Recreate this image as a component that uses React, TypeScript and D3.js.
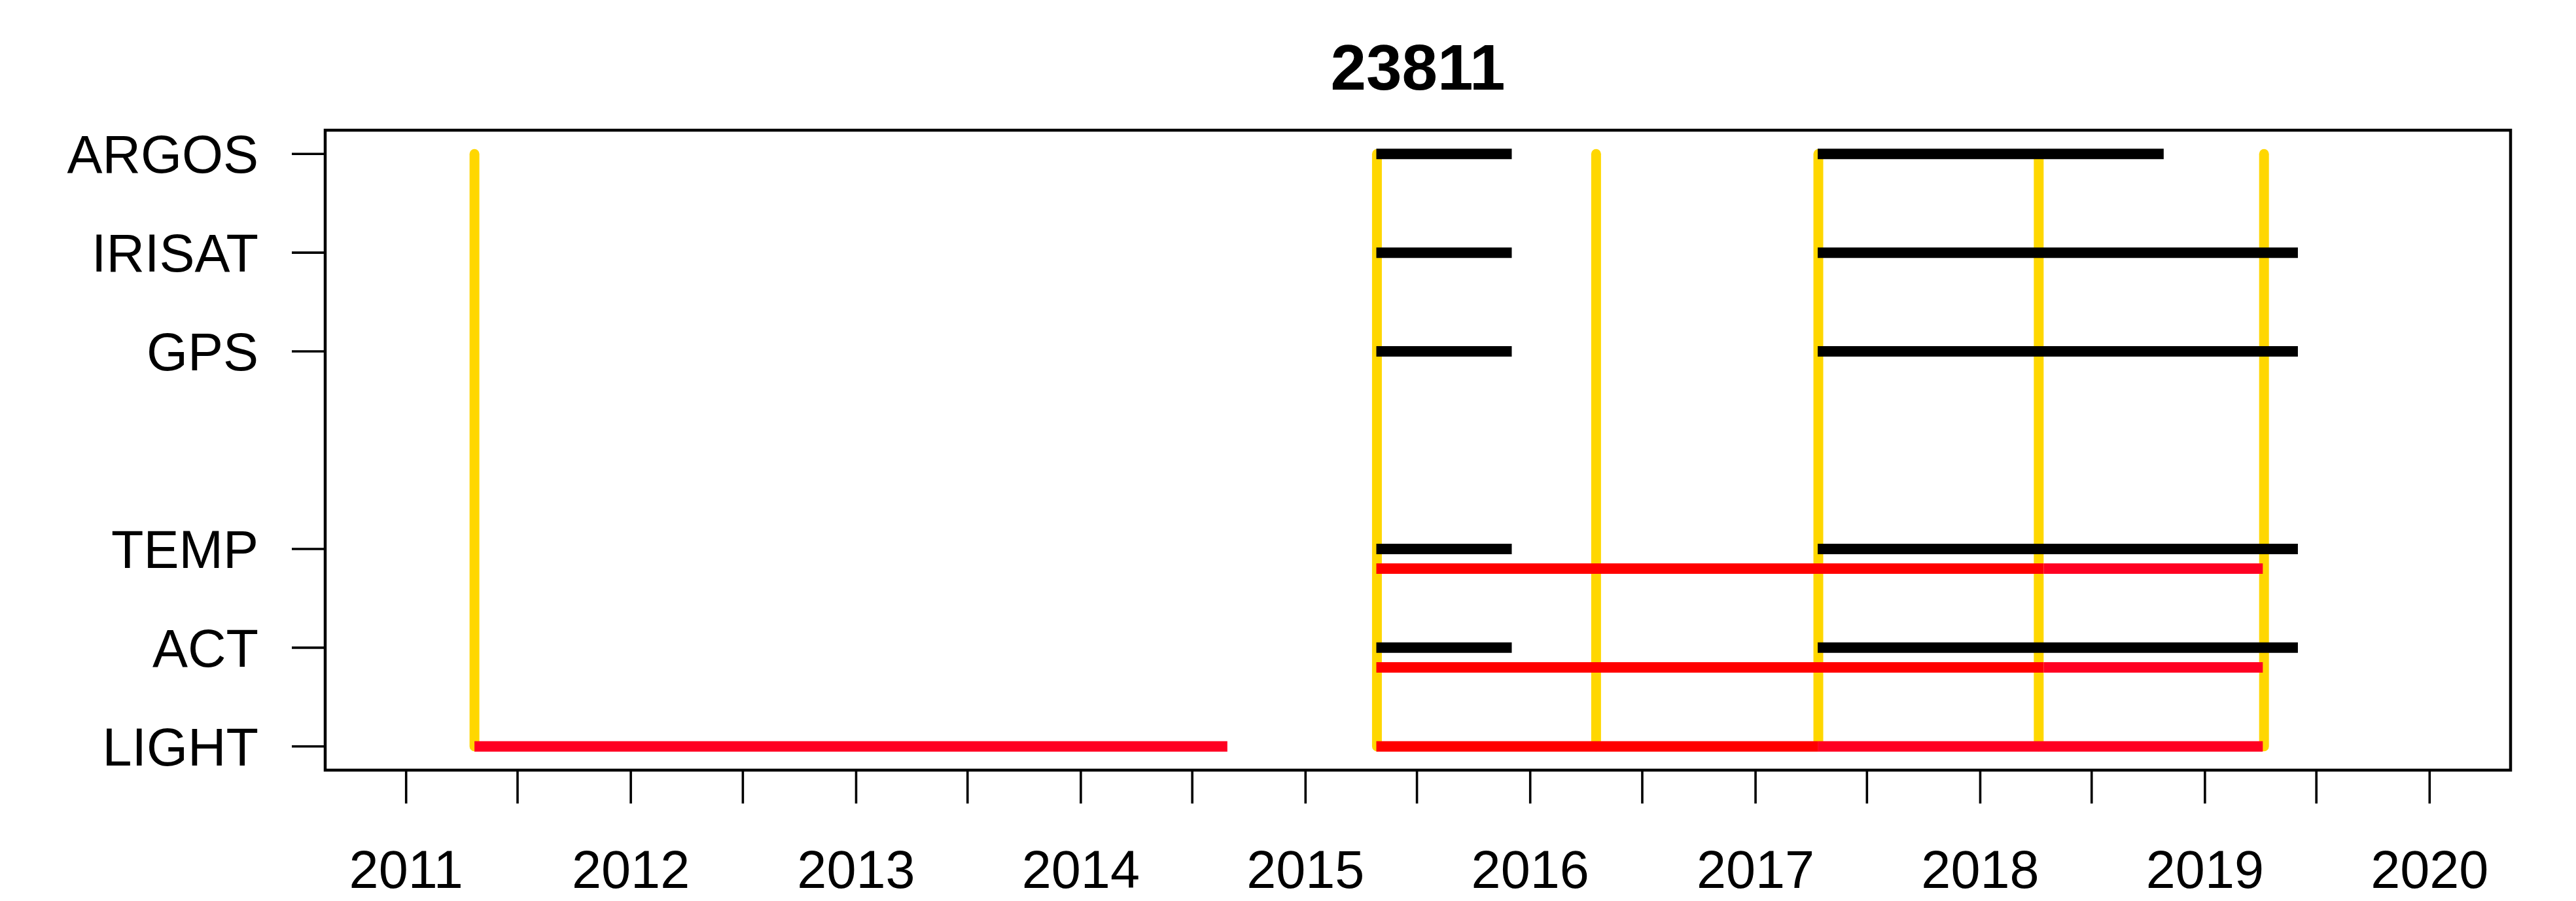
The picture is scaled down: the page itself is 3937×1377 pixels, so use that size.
import React from "react";
import * as d3 from "d3";

const W = 3937;
const H = 1377;
const TITLE = "23811";

// y categories and their positions
const rowNames = ["ARGOS", "IRISAT", "GPS", "TEMP", "ACT", "LIGHT"];
const rowPos = [7, 6, 5, 3, 2, 1];

// deployment dates (gold vertical lines)
const deployDates = ["2011-04-22", "2015-04-27", "2016-04-17", "2017-04-13", "2018-04-06", "2019-04-07"];

// black transmission/sensor segments: row, start, end
const blackRows = ["ARGOS", "IRISAT", "GPS", "TEMP", "ACT", "ARGOS", "IRISAT", "GPS", "TEMP", "ACT"];
const blackStarts = ["2015-04-26", "2015-04-26", "2015-04-26", "2015-04-26", "2015-04-26", "2017-04-12", "2017-04-12", "2017-04-12", "2017-04-12", "2017-04-12"];
const blackEnds = ["2015-12-02", "2015-12-02", "2015-12-02", "2015-12-02", "2015-12-02", "2018-10-26", "2019-06-01", "2019-06-01", "2019-06-01", "2019-06-01"];

// red archival segments: row, start, end, colour, vertical offset (in row units)
const redRows = ["LIGHT", "LIGHT", "LIGHT", "TEMP", "TEMP", "ACT", "ACT"];
const redStarts = ["2011-04-22", "2015-04-26", "2017-04-12", "2015-04-26", "2018-04-14", "2015-04-26", "2018-04-14"];
const redEnds = ["2014-08-27", "2017-04-12", "2019-04-05", "2018-04-14", "2019-04-05", "2018-04-14", "2019-04-05"];
const redColors = ["#FF0022", "#FF0000", "#FF0022", "#FF0000", "#FF0022", "#FF0000", "#FF0022"];
const redOffsets = [0, 0, 0, -0.2, -0.2, -0.2, -0.2];

const yearLabels = ["2011", "2012", "2013", "2014", "2015", "2016", "2017", "2018", "2019", "2020"];

const parse = d3.timeParse("%Y-%m-%d");

export default function App() {
  const left = 497, right = 3837, top = 199, bottom = 1177;
  const x0 = parse("2011-01-01")!.getTime();
  const x1 = parse("2020-01-01")!.getTime();
  const pad = (x1 - x0) * 0.04;
  const x = d3.scaleTime().domain([new Date(x0 - pad), new Date(x1 + pad)]).range([left, right]);
  const yMin = 1, yMax = 7, ypad = (yMax - yMin) * 0.04;
  const y = d3.scaleLinear().domain([yMin - ypad, yMax + ypad]).range([bottom, top]);
  const rowY = (name: string) => rowPos[rowNames.indexOf(name)];

  const ticks = d3.timeMonth.every(6)!.range(parse("2011-01-01")!, parse("2020-01-02")!);
  const font = "'Liberation Sans', Arial, sans-serif";

  return (
    <svg width={W} height={H} style={{ position: "absolute", left: 0, top: 0, background: "#fff" }}>
      <rect x={0} y={0} width={W} height={H} fill="#fff" />
      <text x={(left + right) / 2} y={137} textAnchor="middle" fontFamily={font} fontWeight="bold" fontSize={98}>{TITLE}</text>

      {/* gold deployment lines */}
      {deployDates.map((d, i) => (
        <line key={"g" + i} x1={x(parse(d)!)} x2={x(parse(d)!)} y1={y(yMin)} y2={y(yMax)}
          stroke="#FFD700" strokeWidth={15} strokeLinecap="round" />
      ))}

      {/* black segments */}
      {blackRows.map((r, i) => (
        <line key={"b" + i} x1={x(parse(blackStarts[i])!)} x2={x(parse(blackEnds[i])!)}
          y1={y(rowY(r))} y2={y(rowY(r))} stroke="#000" strokeWidth={16} strokeLinecap="butt" />
      ))}

      {/* red segments */}
      {redRows.map((r, i) => (
        <line key={"r" + i} x1={x(parse(redStarts[i])!)} x2={x(parse(redEnds[i])!)}
          y1={y(rowY(r) + redOffsets[i])} y2={y(rowY(r) + redOffsets[i])}
          stroke={redColors[i]} strokeWidth={16} strokeLinecap="butt" />
      ))}

      {/* box */}
      <rect x={left} y={top} width={right - left} height={bottom - top} fill="none" stroke="#000" strokeWidth={4.5} />

      {/* y axis */}
      {rowNames.map((n, i) => (
        <g key={"y" + i}>
          <line x1={left - 51} x2={left} y1={y(rowPos[i])} y2={y(rowPos[i])} stroke="#000" strokeWidth={3.6} />
          <text x={395} y={y(rowPos[i]) + 29} textAnchor="end" fontFamily={font} fontSize={81}>{n}</text>
        </g>
      ))}

      {/* x axis */}
      {ticks.map((t, i) => (
        <line key={"xt" + i} x1={x(t)} x2={x(t)} y1={bottom} y2={bottom + 51} stroke="#000" strokeWidth={3.6} />
      ))}
      {yearLabels.map((l, i) => (
        <text key={"xl" + i} x={x(parse(l + "-01-01")!)} y={1357} textAnchor="middle" fontFamily={font} fontSize={81}>{l}</text>
      ))}
    </svg>
  );
}
